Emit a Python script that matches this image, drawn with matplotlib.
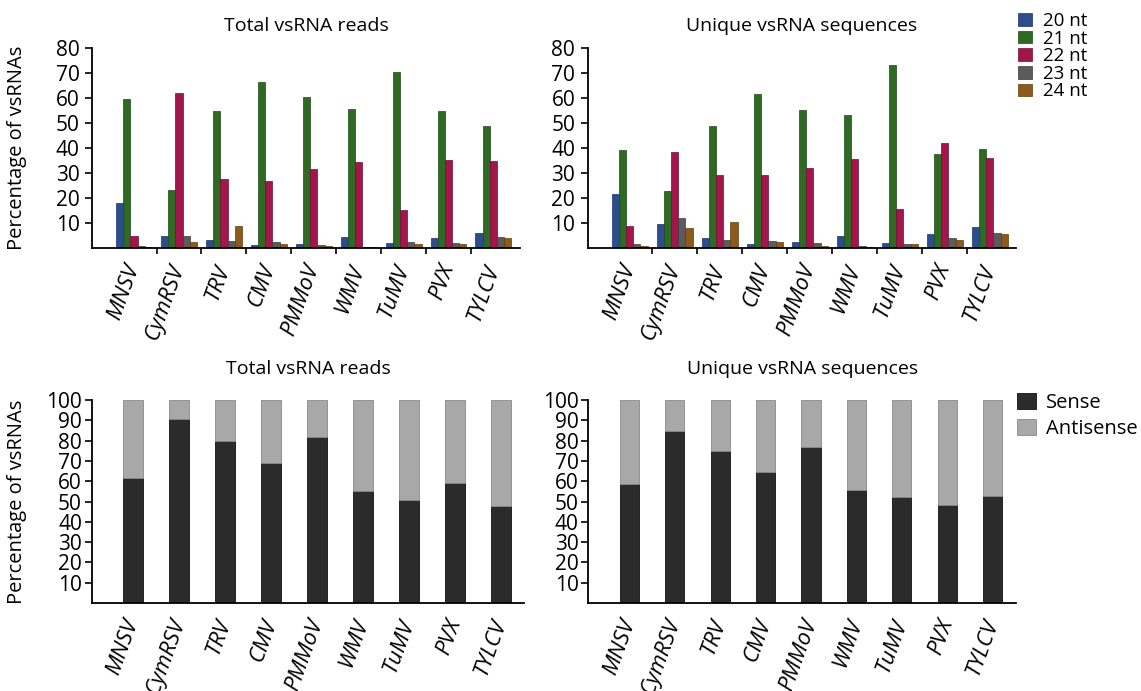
import numpy as np
import matplotlib
matplotlib.use('Agg')
import matplotlib.pyplot as plt

plt.rcParams['font.family'] = ['Open Sans', 'DejaVu Sans']

viruses = ['MNSV', 'CymRSV', 'TRV', 'CMV', 'PMMoV', 'WMV', 'TuMV', 'PVX', 'TYLCV']
size_labels = ['20 nt', '21 nt', '22 nt', '23 nt', '24 nt']

# size distribution, total reads (%)
total_20 = [18.2, 4.9, 3.2, 1.2, 1.9, 4.4, 2.1, 4.1, 6.1]
total_21 = [59.9, 23.3, 55.0, 66.6, 60.5, 55.8, 70.4, 54.9, 48.8]
total_22 = [4.9, 62.3, 27.8, 27.0, 31.6, 34.6, 15.5, 35.3, 35.1]
total_23 = [0.9, 4.9, 2.8, 2.4, 1.5, 0.7, 2.4, 2.1, 4.4]
total_24 = [0.5, 2.5, 8.9, 1.9, 1.1, 0.5, 1.9, 1.9, 4.1]

# size distribution, unique sequences (%)
uniq_20 = [21.6, 9.9, 4.3, 1.6, 2.7, 5.1, 2.1, 5.6, 8.5]
uniq_21 = [39.4, 22.8, 48.9, 61.7, 55.4, 53.5, 73.4, 37.8, 39.8]
uniq_22 = [8.8, 38.6, 29.2, 29.4, 32.1, 35.6, 15.8, 42.1, 36.1]
uniq_23 = [1.7, 12.3, 3.2, 2.9, 2.0, 0.9, 1.9, 4.0, 6.1]
uniq_24 = [1.1, 8.0, 10.4, 2.4, 1.1, 0.4, 1.9, 3.3, 5.6]

# sense share (%), antisense is the rest
total_sense = [61.6, 90.5, 80.0, 69.2, 82.0, 55.1, 50.5, 58.9, 48.0]
uniq_sense = [58.4, 84.7, 74.8, 64.6, 76.9, 55.7, 52.3, 48.5, 52.8]

size_colors = ['#2c4d8e', '#2e6a23', '#a2164c', '#5b5b5b', '#8c5a1a']
size_edges = ['#1c3265', '#1d4716', '#6e0e33', '#3a3a3a', '#5e3c10']

W, H = 1141, 691
fig = plt.figure(figsize=(W / 100, H / 100), dpi=100)


def px_axes(x0, x1, y0, y1):
    return fig.add_axes([x0 / W, 1 - y1 / H, (x1 - x0) / W, (y1 - y0) / H])


def style_axes(ax, ymax, pad):
    for s in ['top', 'right']:
        ax.spines[s].set_visible(False)
    for s in ['left', 'bottom']:
        ax.spines[s].set_linewidth(1.3)
    ax.set_ylim(0, ymax)
    ax.set_yticks(np.arange(10, ymax + 1, 10))
    ax.tick_params(axis='y', length=5, width=1.2, pad=pad, labelsize=15)


def rotate_labels(labels):
    for t in labels:
        t.set_rotation(70)
        t.set_ha('right')
        t.set_va('center')
        t.set_rotation_mode('anchor')
        t.set_fontstyle('italic')
        t.set_fontsize(16)


def size_chart(ax, series, title):
    x = np.arange(len(viruses))
    w = 0.16
    for k, vals in enumerate(series):
        ax.bar(x + (k - 2) * w, vals, width=w, color=size_colors[k],
               edgecolor=size_edges[k], linewidth=0.5, label=size_labels[k])
    ax.set_xlim(-0.93, 8.58)
    style_axes(ax, 80, 4)
    ax.set_xticks(x[:-1] + 0.5)
    ax.set_xticklabels([])
    ax.tick_params(axis='x', which='major', length=4, width=1.2)
    ax.set_xticks(x, viruses, minor=True)
    ax.tick_params(axis='x', which='minor', length=0, pad=12)
    rotate_labels(ax.get_xticklabels(minor=True))
    ax.text(0.5, 1.11, title, transform=ax.transAxes, ha='center',
            va='center', fontsize=14)


def strand_chart(ax, sense, title):
    x = np.arange(len(viruses))
    anti = [100 - s for s in sense]
    ax.bar(x, sense, width=0.42, color='#2b2b2b', edgecolor='#111111',
           linewidth=0.6, label='Sense')
    ax.bar(x, anti, bottom=sense, width=0.42, color='#a8a8a8',
           edgecolor='#8a8a8a', linewidth=0.6, label='Antisense')
    ax.set_xlim(-0.9, 8.51)
    style_axes(ax, 100, 2)
    ax.set_xticks(x, viruses)
    ax.tick_params(axis='x', length=0, pad=12)
    rotate_labels(ax.get_xticklabels())
    ax.text(0.5, 1.155, title, transform=ax.transAxes, ha='center',
            va='center', fontsize=14)


ax1 = px_axes(92.3, 519.5, 48.3, 248.3)
ax2 = px_axes(587.7, 1016, 48.3, 248.3)
ax3 = px_axes(91.7, 524.3, 400, 603)
ax4 = px_axes(588.3, 1016, 400, 603)

size_chart(ax1, [total_20, total_21, total_22, total_23, total_24], 'Total vsRNA reads')
size_chart(ax2, [uniq_20, uniq_21, uniq_22, uniq_23, uniq_24], 'Unique vsRNA sequences')
strand_chart(ax3, total_sense, 'Total vsRNA reads')
strand_chart(ax4, uniq_sense, 'Unique vsRNA sequences')

for ax in [ax1, ax3]:
    ax.set_ylabel('Percentage of vsRNAs', fontsize=14.5)
    ax.yaxis.set_label_coords((27 - 92) / (ax.get_position().width * W), 0.5)

h, l = ax2.get_legend_handles_labels()
fig.legend(h, l, loc='upper left', bbox_to_anchor=(1018 / W, 1 - 12 / H),
           frameon=False, fontsize=13.5, borderpad=0, borderaxespad=0,
           handlelength=0.75, handleheight=0.65, handletextpad=0.6,
           labelspacing=-0.02)

h, l = ax4.get_legend_handles_labels()
fig.legend(h, l, loc='upper left', bbox_to_anchor=(1017 / W, 1 - 393 / H),
           frameon=False, fontsize=14.5, borderpad=0, borderaxespad=0,
           handlelength=0.95, handleheight=0.8, handletextpad=0.5,
           labelspacing=0.3)

fig.savefig('out.png', dpi=100)
